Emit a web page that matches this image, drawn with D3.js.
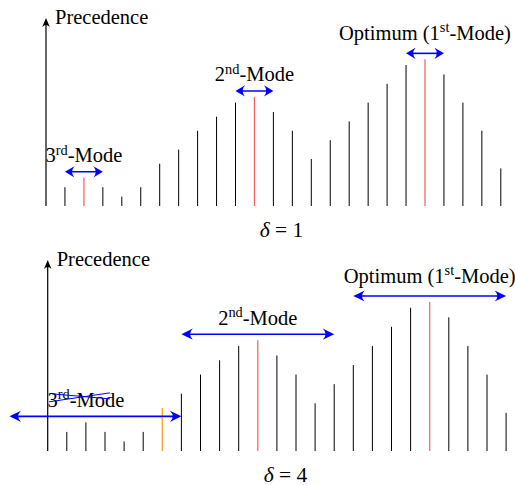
<!DOCTYPE html>
<html>
<head>
<meta charset="utf-8">
<script src="https://cdn.jsdelivr.net/npm/d3@7"></script>
</head>
<body style="margin:0">
<div id="chart"></div>
<script>
// ===== DATA =====
const positions = d3.range(1, 25);
const precedence = [2, 3, 2, 1, 2, 4.5, 6, 8, 9.5, 11, 11.6, 10, 8, 5, 7, 9, 11, 13, 15, 15.6, 14, 11, 8, 4];
const deltas = [1, 4];

// modes: label parts, bar under the arrow, arrow range (positions)
const modeNames = [["3", "rd", "-Mode"], ["2", "nd", "-Mode"], ["Optimum (1", "st", "-Mode)"]];
const modeBars = [2, 11, 20];
const arrowRanges1 = [[1, 3], [10, 12], [19, 21]];
const arrowRanges4 = [[-2, 7], [7, 15], [16, 24]];
const highlight1 = {2: "#ff6464", 11: "#ff6464", 20: "#ff6464"};
const highlight4 = {6: "#ff9a2e", 11: "#ff6464", 20: "#ff6464"};

const FONT = "Liberation Serif";
const width = 515, height = 485;
const svg = d3.select("#chart").append("svg")
  .attr("width", width)
  .attr("height", height);

const BLUE = "#0000ff";

function addText(x, y, size) {
  return svg.append("text")
    .attr("x", x).attr("y", y)
    .attr("font-family", FONT)
    .attr("font-size", size)
    .style("font-family", `"${FONT}"`)
    .style("font-size", size + "px");
}

function arrowHead(g, x, y, dir, len, half, color) {
  // stealth-like head, tip at (x,y), dir = 1 points right, -1 left
  const p = d3.path();
  p.moveTo(x, y);
  p.lineTo(x - dir * len, y - half);
  p.quadraticCurveTo(x - dir * len * 0.5, y, x - dir * len, y + half);
  p.closePath();
  g.append("path").attr("d", p.toString()).attr("fill", color);
}

function label(x, y, parts, size) {
  const t = addText(x, y, size).attr("text-anchor", "middle");
  t.append("tspan").text(parts[0]);
  t.append("tspan").attr("dy", -size * 0.38).attr("font-size", size * 0.7)
    .style("font-size", (size * 0.7) + "px").text(parts[1]);
  t.append("tspan").attr("dy", size * 0.38).text(parts[2]);
  return t;
}

function drawPanel(cfg) {
  const g = svg.append("g");
  const x = d3.scaleLinear().domain([0, 24]).range([cfg.x0, cfg.x0 + 24 * cfg.step]);
  const y = d3.scaleLinear().domain([0, 20]).range([cfg.base, cfg.tip]);
  const fs = 20.5;

  // bars
  g.selectAll("line.bar")
    .data(positions)
    .enter()
    .append("line")
    .attr("class", "bar")
    .attr("x1", d => x(d))
    .attr("x2", d => x(d))
    .attr("y1", y(0))
    .attr("y2", (d, i) => y(precedence[i]))
    .attr("stroke", d => cfg.highlight[d] || "#000")
    .attr("stroke-width", d => cfg.highlight[d] ? 1.3 : 1);

  // vertical axis
  g.append("line")
    .attr("x1", x(0)).attr("x2", x(0))
    .attr("y1", y(0)).attr("y2", y(20) + 4)
    .attr("stroke", "#000").attr("stroke-width", 1.2);
  const ah = d3.path();
  ah.moveTo(x(0), y(20));
  ah.lineTo(x(0) - 3.8, y(20) + 9);
  ah.quadraticCurveTo(x(0), y(20) + 5, x(0) + 3.8, y(20) + 9);
  ah.closePath();
  g.append("path").attr("d", ah.toString()).attr("fill", "#000");

  addText(x(0) + 9, y(20) + 6, fs).text("Precedence");

  // modes
  modeNames.forEach((parts, m) => {
    const bar = modeBars[m];
    const ay = y(precedence[bar - 1]) - 6;
    const [a, b] = cfg.ranges[m];
    g.append("line")
      .attr("x1", x(a) + 3).attr("x2", x(b) - 3)
      .attr("y1", ay).attr("y2", ay)
      .attr("stroke", BLUE).attr("stroke-width", 1.6);
    arrowHead(g, x(a), ay, -1, cfg.headLen, 5.6, BLUE);
    arrowHead(g, x(b), ay, 1, cfg.headLen, 5.6, BLUE);

    const ly = ay - (m === 2 ? 13.5 : 9.5);
    label(x(bar), ly, parts, fs);

    if (cfg.strike && m === 0) {
      const cx = x(bar);
      svg.append("line")
        .attr("x1", cx - 37).attr("y1", ly - 5)
        .attr("x2", cx + 24).attr("y2", ly - 14)
        .attr("stroke", BLUE).attr("stroke-width", 1);
      svg.append("line")
        .attr("x1", cx - 34).attr("y1", ly - 13)
        .attr("x2", cx + 24).attr("y2", ly - 8)
        .attr("stroke", BLUE).attr("stroke-width", 1);
    }
  });

  // delta caption
  const cap = addText(cfg.capX, cfg.capY, 21.5).attr("text-anchor", "middle");
  cap.append("tspan").attr("font-style", "italic").style("font-style", "italic").text("δ");
  cap.append("tspan").text(" = " + cfg.delta);
}

drawPanel({
  x0: 46, step: 18.95, base: 206, tip: 18,
  highlight: highlight1, ranges: arrowRanges1, headLen: 9.5,
  strike: false, delta: deltas[0], capX: 281.5, capY: 236.5
});

drawPanel({
  x0: 47.7, step: 19.1, base: 451, tip: 260,
  highlight: highlight4, ranges: arrowRanges4, headLen: 11.5,
  strike: true, delta: deltas[1], capX: 285.5, capY: 481.5
});
</script>
</body>
</html>
